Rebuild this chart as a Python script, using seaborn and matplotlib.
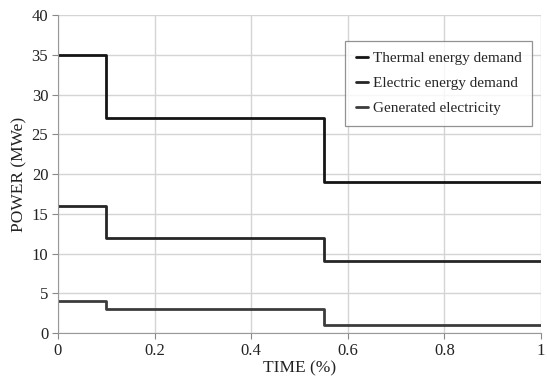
import matplotlib
matplotlib.use("Agg")
import matplotlib.pyplot as plt
import seaborn as sns
import pandas as pd

# step data: value holds from each breakpoint until the next
time_pts = [0, 0.1, 0.55, 1.0]
thermal = [35, 27, 19, 19]
electric = [16, 12, 9, 9]
generated = [4, 3, 1, 1]
series_names = ["Thermal energy demand", "Electric energy demand", "Generated electricity"]
series_colors = ["#151515", "#262626", "#3c3c3c"]

df = pd.DataFrame({
    "time": time_pts * 3,
    "power": thermal + electric + generated,
    "series": sum([[n] * len(time_pts) for n in series_names], []),
})

sns.set_style("white")
plt.rcParams["font.family"] = ["Liberation Serif", "DejaVu Serif"]

fig = plt.figure(figsize=(5.47, 3.85), dpi=100)
ax = fig.add_axes([0.106, 0.135, 0.883, 0.826])

sns.lineplot(data=df, x="time", y="power", hue="series", hue_order=series_names,
             palette=series_colors, drawstyle="steps-post", linewidth=2.0, ax=ax)

ax.set_xlim(0, 1)
ax.set_ylim(0, 40)
ax.set_xticks([0, 0.2, 0.4, 0.6, 0.8, 1.0])
ax.set_xticklabels(["0", "0.2", "0.4", "0.6", "0.8", "1"])
ax.set_yticks(range(0, 41, 5))
ax.grid(True, color="#d4d4d4", linewidth=1.0)
for side in ["top", "right"]:
    ax.spines[side].set_visible(False)
ax.spines["left"].set_color("#999999")
ax.spines["bottom"].set_color("#999999")
ax.tick_params(axis="both", left=True, bottom=True, labelsize=12, colors="#888888",
               length=4, width=0.8, direction="out", pad=3)
ax.tick_params(axis="both", labelcolor="#222222")
ax.set_xlabel("TIME (%)", fontsize=12.5, color="#222222", labelpad=1)
ax.set_ylabel("POWER (MWe)", fontsize=12.5, color="#222222", labelpad=3)

leg = ax.legend(loc="upper right", bbox_to_anchor=(0.998, 0.943), fontsize=11,
                frameon=True, fancybox=False, handlelength=0.8, handletextpad=0.3,
                labelspacing=0.75, borderpad=0.7, title=None)
leg.get_frame().set_edgecolor("#777777")
leg.get_frame().set_linewidth(0.9)

fig.savefig("out.png", dpi=100)
